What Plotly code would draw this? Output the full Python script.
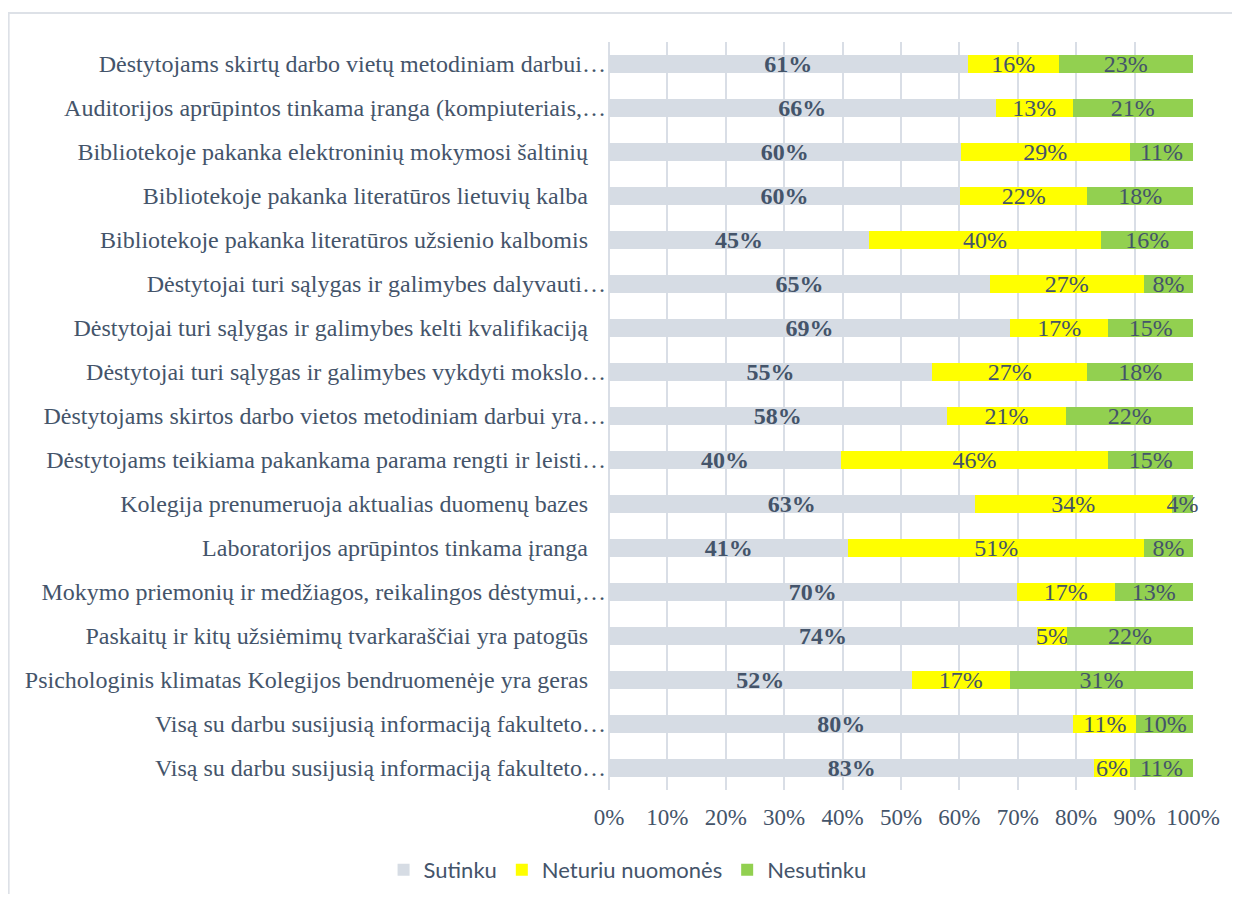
import plotly.graph_objects as go

categories = [
    "Dėstytojams skirtų darbo vietų metodiniam darbui…",
    "Auditorijos aprūpintos tinkama įranga (kompiuteriais,…",
    "Bibliotekoje pakanka elektroninių mokymosi šaltinių",
    "Bibliotekoje pakanka literatūros lietuvių kalba",
    "Bibliotekoje pakanka literatūros užsienio kalbomis",
    "Dėstytojai turi sąlygas ir galimybes dalyvauti…",
    "Dėstytojai turi sąlygas ir galimybes kelti kvalifikaciją",
    "Dėstytojai turi sąlygas ir galimybes vykdyti mokslo…",
    "Dėstytojams skirtos darbo vietos metodiniam darbui yra…",
    "Dėstytojams teikiama pakankama parama rengti ir leisti…",
    "Kolegija prenumeruoja aktualias duomenų bazes",
    "Laboratorijos aprūpintos tinkama įranga",
    "Mokymo priemonių ir medžiagos, reikalingos dėstymui,…",
    "Paskaitų ir kitų užsiėmimų tvarkaraščiai yra patogūs",
    "Psichologinis klimatas Kolegijos bendruomenėje yra geras",
    "Visą su darbu susijusią informaciją fakulteto…",
    "Visą su darbu susijusią informaciją fakulteto…",
]

sutinku = [61.4, 66.2, 60.2, 60.1, 44.5, 65.2, 68.7, 55.3, 57.8, 39.7, 62.6, 41.0, 69.8, 73.3, 51.8, 79.5, 83.1]
neturiu = [15.6, 13.2, 29.0, 21.8, 39.8, 26.4, 16.8, 26.6, 20.5, 45.8, 33.8, 50.6, 16.8, 5.1, 16.9, 10.8, 6.1]
nesutinku = [23.0, 20.6, 10.8, 18.1, 15.7, 8.4, 14.5, 18.1, 21.7, 14.5, 3.6, 8.4, 13.4, 21.6, 31.3, 9.7, 10.8]

sutinku_lbl = [61, 66, 60, 60, 45, 65, 69, 55, 58, 40, 63, 41, 70, 74, 52, 80, 83]
neturiu_lbl = [16, 13, 29, 22, 40, 27, 17, 27, 21, 46, 34, 51, 17, 5, 17, 11, 6]
nesutinku_lbl = [23, 21, 11, 18, 16, 8, 15, 18, 22, 15, 4, 8, 13, 22, 31, 10, 11]

x_ticks = [0, 10, 20, 30, 40, 50, 60, 70, 80, 90, 100]

TXT = "#44546A"
SERIF = "Liberation Serif, Times New Roman, serif"

pos = list(range(len(categories)))
ticktext = [c if c.endswith("…") else c + "\u00a0" * 3 for c in categories]

fig = go.Figure()
series = [
    ("Sutinku", sutinku, sutinku_lbl, "#D6DCE4", "bold"),
    ("Neturiu nuomonės", neturiu, neturiu_lbl, "#FFFF00", "normal"),
    ("Nesutinku", nesutinku, nesutinku_lbl, "#92D050", "normal"),
]
for name, vals, lbls, col, wt in series:
    fig.add_trace(go.Bar(
        name=name, y=pos, x=vals, orientation="h",
        marker=dict(color=col, line=dict(width=0)),
        width=0.4,
        text=[f"{v}%" for v in lbls],
        textposition="inside", insidetextanchor="middle",
        constraintext="none",
        textfont=dict(family=SERIF, size=24, color=TXT, weight=wt),
        cliponaxis=False,
        hoverinfo="skip",
    ))

fig.update_layout(
    barmode="stack",
    width=1232, height=886,
    margin=dict(l=601, r=47, t=34, b=104, autoexpand=False),
    paper_bgcolor="white", plot_bgcolor="white",
    showlegend=True,
    legend=dict(
        orientation="h", x=-0.386, xanchor="left", y=-0.107, yanchor="middle",
        font=dict(family="Lato, Calibri, sans-serif", size=22, color=TXT),
        itemwidth=30, traceorder="normal",
    ),
    font=dict(family=SERIF, color=TXT),
    uniformtext=dict(mode=False),
)
fig.update_xaxes(
    range=[0, 100], tickvals=x_ticks, ticktext=[f"{t}%" for t in x_ticks],
    showgrid=True, gridcolor="#D9DEE6", gridwidth=2,
    zeroline=True, zerolinecolor="#D9DEE6", zerolinewidth=2,
    showline=False, ticks="",
    ticklabelstandoff=11, automargin=False,
    tickfont=dict(family=SERIF, size=23, color=TXT),
)
fig.update_yaxes(
    range=[len(categories) - 0.5, -0.5],
    tickvals=pos, ticktext=ticktext,
    showgrid=False, zeroline=False, showline=False, ticks="",
    ticklabelstandoff=2, automargin=False,
    tickfont=dict(family=SERIF, size=24, color=TXT),
)

# outer chart-area border
fig.add_shape(type="rect", xref="paper", yref="paper",
              x0=-1.028, x1=1.10, y0=-0.16, y1=1.0388,
              line=dict(color="#DDE1E7", width=2), fillcolor="rgba(0,0,0,0)",
              layer="below")

fig.write_html("out.html")
